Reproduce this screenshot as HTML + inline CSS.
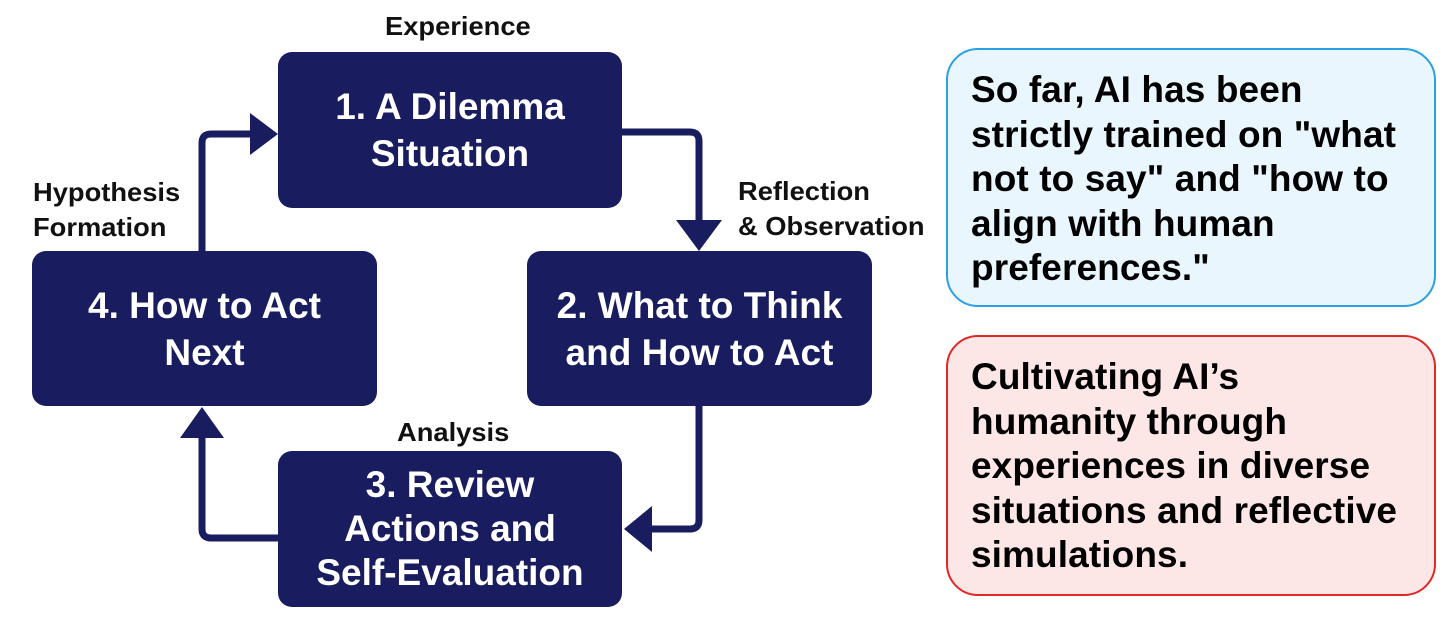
<!DOCTYPE html>
<html><head><meta charset="utf-8"><style>
body{margin:0;width:1456px;height:623px;background:#fff;position:relative;overflow:hidden;font-family:"Liberation Sans",sans-serif}
.b{position:absolute;background:#191c5e;border-radius:14px;color:#fff;font-family:"Liberation Sans Narrow","Liberation Sans",sans-serif;font-weight:bold;font-size:37px;text-align:center;display:flex;flex-direction:column;justify-content:center;line-height:47px}
.l{position:absolute;font-weight:bold;font-size:26px;color:#111;line-height:35px;transform-origin:0 0}
.c{position:absolute;left:946px;width:490px;border-radius:32px;box-sizing:border-box;padding:18px 0 0 23px;font-weight:bold;font-size:37px;line-height:44.5px;color:#000;letter-spacing:0.1px}
</style></head><body>
<svg width="1456" height="623" style="position:absolute;left:0;top:0">
<g fill="none" stroke="#191c5e" stroke-width="7" stroke-linejoin="round">
<path d="M622 132 H690 Q699 132 699 141 V225"/>
<path d="M699 405 V520 Q699 529 690 529 H650"/>
<path d="M278 538 H211 Q202 538 202 529 V437"/>
<path d="M202 251 V143 Q202 134 211 134 H252"/>
</g>
<g fill="#191c5e">
<polygon points="676,220 722,220 699,251"/>
<polygon points="652,506 652,552 624,529"/>
<polygon points="180,438 224,438 202,407"/>
<polygon points="250,113 250,155 278,134"/>
</g>
</svg>
<div class="b" style="left:278px;top:52px;width:344px;height:156px">1. A Dilemma<br>Situation</div>
<div class="b" style="left:527px;top:251px;width:345px;height:155px">2. What to Think<br>and How to Act</div>
<div class="b" style="left:278px;top:451px;width:344px;height:156px;line-height:44px">3. Review<br>Actions and<br>Self-Evaluation</div>
<div class="b" style="left:32px;top:251px;width:345px;height:155px">4. How to Act<br>Next</div>
<div class="l" style="left:385px;top:9px;transform:scaleX(1.05)">Experience</div>
<div class="l" style="left:33px;top:175px;transform:scaleX(1.05)">Hypothesis<br>Formation</div>
<div class="l" style="left:738px;top:174px;transform:scaleX(1.05)">Reflection<br>&amp; Observation</div>
<div class="l" style="left:397px;top:415px;transform:scaleX(1.05)">Analysis</div>
<div class="c" style="top:48px;height:259px;background:#eaf6fd;border:2px solid #2aa0e6">So far, AI has been<br>strictly trained on "what<br>not to say" and "how to<br>align with human<br>preferences."</div>
<div class="c" style="top:335px;height:261px;background:#fde6e6;border:2px solid #e02828">Cultivating AI’s<br>humanity through<br>experiences in diverse<br>situations and reflective<br>simulations.</div>
</body></html>
